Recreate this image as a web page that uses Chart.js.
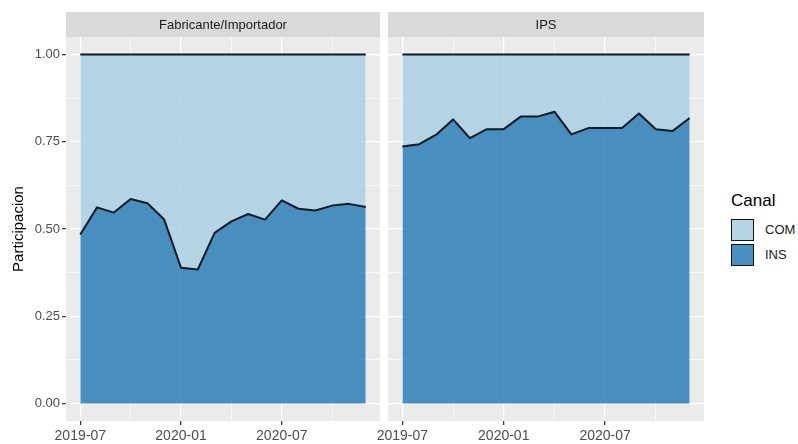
<!DOCTYPE html>
<html>
<head>
<meta charset="utf-8">
<script src="https://cdn.jsdelivr.net/npm/chart.js@4.4.1/dist/chart.umd.min.js"></script>
<style>
  body { margin: 0; background: #fff; width: 798px; height: 444px; overflow: hidden; font-family: "Liberation Sans", Arial, sans-serif; }
  #left { position: absolute; left: 0; top: 0; }
  #right { position: absolute; left: 360px; top: 0; }
  #legend { position: absolute; left: 731px; top: 192px; color: #000; }
  #legend .ttl { font-size: 17px; line-height: 17px; height: 25px; }
  #legend .item { height: 25px; display: flex; align-items: center; font-size: 13px; color: #1a1a1a; }
  #legend .key { width: 21px; height: 20px; border: 1.5px solid #111; margin-right: 11px; }
</style>
</head>
<body>
<canvas id="left" width="384" height="444"></canvas>
<canvas id="right" width="348" height="444"></canvas>
<div id="legend">
  <div class="ttl">Canal</div>
  <div class="item"><span class="key" style="background:#b5d5e6"></span>COM</div>
  <div class="item"><span class="key" style="background:#4a8fc1"></span>INS</div>
</div>
<script>
// meses 2019-07 .. 2020-12
const months = ['2019-07','2019-08','2019-09','2019-10','2019-11','2019-12',
  '2020-01','2020-02','2020-03','2020-04','2020-05','2020-06',
  '2020-07','2020-08','2020-09','2020-10','2020-11','2020-12']
const xTickLabels = ['2019-07', '2020-01', '2020-07']
const yTickLabels = ['0.00', '0.25', '0.50', '0.75', '1.00']

const fabINS = [0.484,0.562,0.547,0.586,0.574,0.527,0.389,0.384,0.489,0.522,0.543,0.527,0.582,0.558,0.553,0.567,0.572,0.563]
const fabCOM = [0.516,0.438,0.453,0.414,0.426,0.473,0.611,0.616,0.511,0.478,0.457,0.473,0.418,0.442,0.447,0.433,0.428,0.437]
const ipsINS = [0.736,0.743,0.770,0.814,0.760,0.786,0.786,0.822,0.822,0.836,0.771,0.789,0.789,0.789,0.831,0.786,0.781,0.818]
const ipsCOM = [0.264,0.257,0.230,0.186,0.240,0.214,0.214,0.178,0.178,0.164,0.229,0.211,0.211,0.211,0.169,0.214,0.219,0.182]

const FONT = '"Liberation Sans", Arial, sans-serif'
const lineColor = '#101a24'

const panelPlugin = {
  id: 'panel',
  beforeDraw(chart, args, opts) {
    const { ctx, chartArea: a } = chart
    ctx.save()
    ctx.fillStyle = '#ebebeb'
    ctx.fillRect(a.left, a.top, a.right - a.left, a.bottom - a.top)
    ctx.fillStyle = '#d9d9d9'
    ctx.fillRect(a.left, 12, a.right - a.left, a.top - 12)
    ctx.fillStyle = '#1a1a1a'
    ctx.font = '13px ' + FONT
    ctx.textAlign = 'center'
    ctx.textBaseline = 'middle'
    ctx.fillText(opts.strip, (a.left + a.right) / 2, (12 + a.top) / 2 + 1)
    ctx.restore()
  }
}

function makeChart(id, strip, ins, com, showY) {
  const xLabelIdx = xTickLabels.map(l => months.indexOf(l))
  return new Chart(document.getElementById(id), {
    type: 'line',
    data: {
      datasets: [{
        label: 'INS',
        data: ins.map((v, i) => ({ x: i, y: v })),
        backgroundColor: 'rgba(31,120,180,0.8)',
        borderColor: lineColor,
        borderWidth: 2,
        borderJoinStyle: 'round',
        pointRadius: 0,
        fill: 'origin',
      }, {
        label: 'COM',
        data: com.map((v, i) => ({ x: i, y: v })),
        backgroundColor: 'rgba(166,206,227,0.8)',
        borderColor: lineColor,
        borderWidth: 2,
        borderJoinStyle: 'round',
        pointRadius: 0,
        fill: '-1',
      }],
    },
    plugins: [panelPlugin],
    options: {
      responsive: false,
      animation: false,
      layout: { padding: { top: 37, right: 4, left: showY ? 0 : 28, bottom: 0 } },
      plugins: {
        legend: { display: false },
        tooltip: { enabled: false },
        panel: { strip: strip },
      },
      scales: {
        x: {
          type: 'linear',
          min: -0.85,
          max: 17.85,
          border: { display: false },
          afterFit: s => { s.height = 23; s.paddingLeft = 0; s.paddingRight = 0 },
          afterBuildTicks: s => { s.ticks = [0, 3, 6, 9, 12, 15].map(v => ({ value: v })) },
          grid: {
            color: '#ffffff',
            lineWidth: c => xLabelIdx.includes(c.tick.value) ? 1.3 : 0.6,
            tickColor: c => xLabelIdx.includes(c.tick.value) ? '#333' : 'rgba(0,0,0,0)',
            tickWidth: 1.2,
            tickLength: 4,
          },
          ticks: {
            autoSkip: false,
            maxRotation: 0,
            padding: 3,
            color: '#4d4d4d',
            font: { family: FONT, size: 14 },
            callback: v => { const k = xLabelIdx.indexOf(v); return k >= 0 ? xTickLabels[k] : '' },
          },
        },
        y: {
          stacked: true,
          min: -0.05,
          max: 1.05,
          border: { display: false },
          afterFit: s => { s.width = showY ? 66 : 0 },
          afterBuildTicks: s => { s.ticks = [0, 0.125, 0.25, 0.375, 0.5, 0.625, 0.75, 0.875, 1].map(v => ({ value: v })) },
          title: {
            display: showY,
            text: 'Participacion',
            color: '#000',
            font: { family: FONT, size: 15 },
            padding: { top: 10, bottom: 0 },
          },
          grid: {
            color: '#ffffff',
            lineWidth: c => (c.tick.value * 4) % 1 === 0 ? 1.3 : 0.6,
            drawTicks: showY,
            tickColor: c => (c.tick.value * 4) % 1 === 0 ? '#333' : 'rgba(0,0,0,0)',
            tickWidth: 1.2,
            tickLength: 4,
          },
          ticks: {
            display: showY,
            autoSkip: false,
            padding: 2,
            color: '#4d4d4d',
            font: { family: FONT, size: 13 },
            callback: v => (v * 4) % 1 === 0 ? yTickLabels[v * 4] : '',
          },
        },
      },
    },
  })
}

makeChart('left', 'Fabricante/Importador', fabINS, fabCOM, true)
makeChart('right', 'IPS', ipsINS, ipsCOM, false)
</script>
</body>
</html>
